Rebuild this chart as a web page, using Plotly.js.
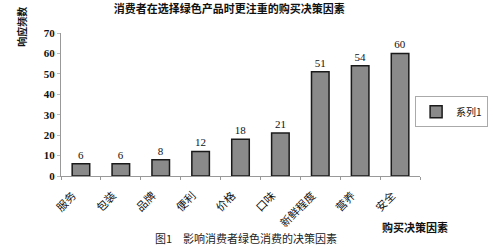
<!DOCTYPE html>
<html>
<head>
<meta charset="utf-8">
<script src="https://cdn.plot.ly/plotly-3.0.1.min.js"></script>
<style>html,body{margin:0;padding:0;background:#fff;}#chart{width:493px;height:247px;}</style>
</head>
<body>
<div id="chart"></div>
<script>
const categories = ["服务", "包装", "品牌", "便利", "价格", "口味", "新鲜程度", "营养", "安全"];
const values = [6, 6, 8, 12, 18, 21, 51, 54, 60];
const seriesName = "系列1";
const chartTitle = "消费者在选择绿色产品时更注重的购买决策因素";
const yTitle = "响应频数";
const xTitle = "购买决策因素";
const caption = "图1　影响消费者绿色消费的决策因素";

const cjk = '"Noto Sans CJK SC", sans-serif';
const serif = '"Liberation Serif", "DejaVu Serif", serif';

const trace = {
  type: 'bar',
  x: categories,
  y: values,
  name: seriesName,
  width: 0.44,
  marker: {color: '#8a8a8a', line: {color: '#1a1a1a', width: 1.5}},
  text: values.map(String),
  textposition: 'outside',
  textfont: {family: serif, size: 11, color: '#111'},
  cliponaxis: false,
  showlegend: true
};

const layout = {
  width: 493, height: 247,
  margin: {l: 61, r: 73, t: 33, b: 71, autoexpand: false},
  paper_bgcolor: '#fff', plot_bgcolor: '#fff',
  title: {text: chartTitle, x: 0.465, xanchor: 'center', y: 0.962, yanchor: 'middle', yref: 'container',
          font: {family: cjk, size: 11, color: '#111', weight: 'bold'}},
  xaxis: {
    type: 'category',
    showline: true, linecolor: '#999', linewidth: 1,
    ticks: 'outside', ticklen: 3, tickcolor: '#999', tickson: 'boundaries',
    tickangle: -45,
    ticklabelshift: -8, ticklabelstandoff: 8,
    tickfont: {family: cjk, size: 11, color: '#111'},
    showgrid: false, zeroline: false
  },
  yaxis: {
    range: [0, 70], dtick: 10,
    showline: true, linecolor: '#999', linewidth: 1,
    ticks: 'outside', ticklen: 3, tickcolor: '#bbb',
    tickfont: {family: serif, size: 11, color: '#111', weight: 'bold'},
    showgrid: false, zeroline: false
  },
  legend: {
    xref: 'container', yref: 'container',
    x: 0.842, y: 0.61, xanchor: 'left', yanchor: 'top',
    bordercolor: '#aaa', borderwidth: 1, bgcolor: '#fff',
    font: {family: cjk, size: 10, color: '#111'},
    itemwidth: 30, tracegroupgap: 0
  },
  annotations: [
    {text: yTitle, xref: 'paper', yref: 'paper', x: -0.109, y: 1.042, xanchor: 'center', yanchor: 'middle',
     textangle: -90, showarrow: false, font: {family: cjk, size: 10, color: '#111', weight: 'bold'}},
    {text: xTitle, xref: 'paper', yref: 'paper', x: 0.986, y: -0.357, xanchor: 'center', yanchor: 'middle',
     showarrow: false, font: {family: cjk, size: 11, color: '#111', weight: 'bold'}},
    {text: caption, xref: 'paper', yref: 'paper', x: 0.515, y: -0.434, xanchor: 'center', yanchor: 'middle',
     showarrow: false, font: {family: cjk, size: 11, color: '#222'}}
  ]
};

Plotly.newPlot('chart', [trace], layout, {displayModeBar: false, staticPlot: true});
</script>
</body>
</html>
